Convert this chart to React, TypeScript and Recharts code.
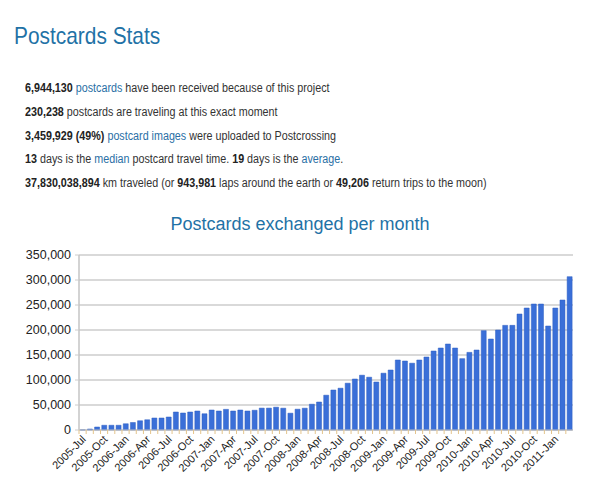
import React from "react";
import { BarChart, Bar, XAxis, YAxis, CartesianGrid } from "recharts";

const months = [
  "2005-Jul", "2005-Aug", "2005-Sep", "2005-Oct", "2005-Nov", "2005-Dec",
  "2006-Jan", "2006-Feb", "2006-Mar", "2006-Apr", "2006-May", "2006-Jun",
  "2006-Jul", "2006-Aug", "2006-Sep", "2006-Oct", "2006-Nov", "2006-Dec",
  "2007-Jan", "2007-Feb", "2007-Mar", "2007-Apr", "2007-May", "2007-Jun",
  "2007-Jul", "2007-Aug", "2007-Sep", "2007-Oct", "2007-Nov", "2007-Dec",
  "2008-Jan", "2008-Feb", "2008-Mar", "2008-Apr", "2008-May", "2008-Jun",
  "2008-Jul", "2008-Aug", "2008-Sep", "2008-Oct", "2008-Nov", "2008-Dec",
  "2009-Jan", "2009-Feb", "2009-Mar", "2009-Apr", "2009-May", "2009-Jun",
  "2009-Jul", "2009-Aug", "2009-Sep", "2009-Oct", "2009-Nov", "2009-Dec",
  "2010-Jan", "2010-Feb", "2010-Mar", "2010-Apr", "2010-May", "2010-Jun",
  "2010-Jul", "2010-Aug", "2010-Sep", "2010-Oct", "2010-Nov", "2010-Dec",
  "2011-Jan", "2011-Feb", "2011-Mar",
];

const exchanged = [
  200, 2000, 6000, 9500, 9500, 9500,
  12500, 15000, 18500, 20500, 24000, 24000,
  26000, 36000, 34000, 36000, 38000, 32500,
  40000, 38000, 41300, 38000, 40000, 38000,
  39500, 43800, 43800, 45600, 43600, 33600,
  41600, 43600, 51600, 56000, 69600, 80000,
  83600, 93600, 102000, 109600, 105600, 96000,
  113600, 120000, 140000, 138000, 133600, 140000,
  146000, 158000, 164000, 172000, 164000, 142700,
  155300, 160000, 198700, 182000, 200000, 209300,
  209300, 232000, 244000, 252000, 252000, 208000,
  244000, 260000, 306700,
];

const yTicks = [0, 50000, 100000, 150000, 200000, 250000, 300000, 350000];

const data = months.map((m, i) => ({ month: m, cards: exchanged[i] }));

const stats: { parts: [string, "b" | "a" | "t"][] }[] = [
  { parts: [["6,944,130", "b"], [" ", "t"], ["postcards", "a"], [" have been received because of this project", "t"]] },
  { parts: [["230,238", "b"], [" postcards are traveling at this exact moment", "t"]] },
  { parts: [["3,459,929 (49%)", "b"], [" ", "t"], ["postcard images", "a"], [" were uploaded to Postcrossing", "t"]] },
  {
    parts: [
      ["13", "b"], [" days is the ", "t"], ["median", "a"], [" postcard travel time. ", "t"],
      ["19", "b"], [" days is the ", "t"], ["average", "a"], [".", "t"],
    ],
  },
  {
    parts: [
      ["37,830,038,894", "b"], [" km traveled (or ", "t"], ["943,981", "b"],
      [" laps around the earth or ", "t"], ["49,206", "b"], [" return trips to the moon)", "t"],
    ],
  },
];

const FONT = "'Liberation Sans', Arial, sans-serif";

function MonthTick(props: any) {
  const { x, y, payload } = props;
  const half = payload?.offset ?? 3.6;
  const i = months.indexOf(payload.value);
  const tx = x + 4;
  const ty = y + 10;
  return (
    <g>
      <line x1={x - half} x2={x - half} y1={y} y2={y + 4} stroke="#e3c48c" />
      {i % 3 === 0 && (
        <text
          x={tx}
          y={ty}
          textAnchor="end"
          transform={`rotate(-45 ${tx} ${ty})`}
          fontSize={11}
          fontFamily={FONT}
          fill="#222"
        >
          {payload.value}
        </text>
      )}
    </g>
  );
}

export default function App() {
  return (
    <div style={{ position: "absolute", left: 0, top: 0, width: 600, height: 487, background: "#fff", fontFamily: FONT }}>
      <div
        style={{
          position: "absolute",
          left: 14,
          top: 24,
          fontSize: 24,
          lineHeight: "24px",
          color: "#1f72a6",
          transform: "scaleX(0.87)",
          transformOrigin: "left",
          whiteSpace: "nowrap",
        }}
      >
        Postcards Stats
      </div>

      {stats.map((line, li) => (
        <div
          key={li}
          style={{
            position: "absolute",
            left: 25,
            top: 76 + li * 23.8,
            fontSize: 12,
            lineHeight: "24px",
            color: "#333",
            transform: "scaleX(0.895)",
            transformOrigin: "left",
            whiteSpace: "nowrap",
          }}
        >
          {line.parts.map(([txt, kind], pi) =>
            kind === "b" ? (
              <b key={pi} style={{ color: "#222" }}>{txt}</b>
            ) : kind === "a" ? (
              <span key={pi} style={{ color: "#2a6fa5" }}>{txt}</span>
            ) : (
              <span key={pi}>{txt}</span>
            )
          )}
        </div>
      ))}

      <div
        style={{
          position: "absolute",
          left: 0,
          top: 215,
          width: 600,
          textAlign: "center",
          fontSize: 18,
          lineHeight: "18px",
          color: "#1f72a6",
          whiteSpace: "nowrap",
        }}
      >
        Postcards exchanged per month
      </div>

      <div style={{ position: "absolute", left: 0, top: 245 }}>
        <BarChart
          width={600}
          height={242}
          data={data}
          margin={{ top: 10, right: 27, left: 0, bottom: 0 }}
          barCategoryGap="18%"
        >
          <CartesianGrid vertical={false} stroke="#cccccc" strokeWidth={1.5} />
          <XAxis
            dataKey="month"
            interval={0}
            tick={<MonthTick />}
            tickLine={false}
            tickSize={0}
            tickMargin={0}
            axisLine={{ stroke: "#c4c4c4" }}
            height={57}
          />
          <YAxis
            domain={[0, 350000]}
            ticks={yTicks}
            tickFormatter={(v: number) => v.toLocaleString("en-US")}
            tick={{ fontSize: 12.5, fill: "#222", fontFamily: FONT }}
            tickLine={{ stroke: "#cccccc" }}
            tickSize={4}
            tickMargin={4}
            axisLine={{ stroke: "#c4c4c4", strokeWidth: 1.5 }}
            width={79}
          />
          <YAxis
            yAxisId="right"
            orientation="right"
            domain={[0, 350000]}
            tick={false}
            tickLine={false}
            axisLine={{ stroke: "#cccccc", strokeWidth: 1.5 }}
            width={0}
          />
          <Bar dataKey="cards" fill="#3a6fd8" stroke="#2f5fc0" strokeWidth={0.5} isAnimationActive={false} />
        </BarChart>
      </div>
    </div>
  );
}
